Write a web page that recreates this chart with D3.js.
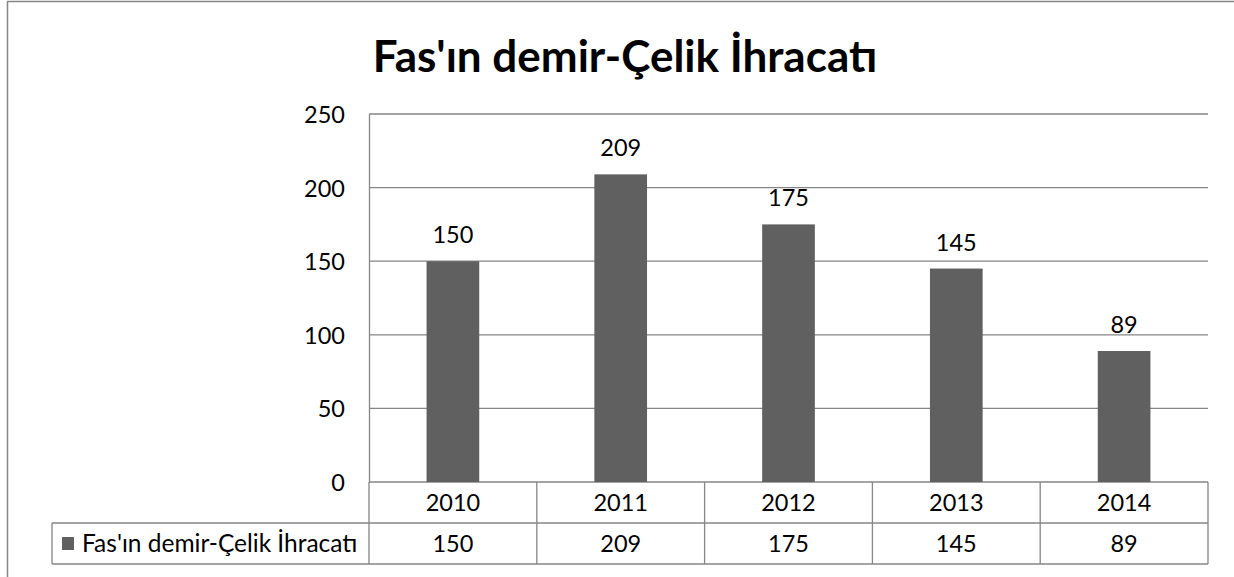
<!DOCTYPE html>
<html>
<head>
<meta charset="utf-8">
<script src="https://cdn.jsdelivr.net/npm/d3@7"></script>
<style>
    body { margin: 0; background: #fff; }
    text { font-family: Lato, 'Noto Sans', sans-serif; fill: #000; }
</style>
</head>
<body>
<svg id="grafico"></svg>
<script>
const titulo = "Fas'ın demir-Çelik İhracatı";
const serie = "Fas'ın demir-Çelik İhracatı";
const anos = ['2010', '2011', '2012', '2013', '2014'];
const valores = [150, 209, 175, 145, 89];
const ticksY = [0, 50, 100, 150, 200, 250];

const largura = 1234, altura = 577;
const cinza = '#868686';
const fonte = '23.5px';

let svg = d3
    .select('#grafico')
    .attr('width', largura)
    .attr('height', altura);

// moldura do grafico
svg.append('rect')
    .attr('x', 7.5)
    .attr('y', 1.5)
    .attr('width', largura + 10)
    .attr('height', altura + 10)
    .attr('fill', 'none')
    .attr('stroke', cinza)
    .attr('stroke-width', 1.5);

var area = { esquerda: 369, direita: 1208, superior: 114, inferior: 482 };
var linhaTabela = 41; // altura de cada linha da tabela de dados
var legendaX = 52;

let fnX = d3
    .scaleBand()
    .domain(anos)
    .range([area.esquerda, area.direita])
    .paddingInner(0.686)
    .paddingOuter(0.343);

let fnY = d3
    .scaleLinear()
    .domain([0, d3.max(ticksY)])
    .range([area.inferior, area.superior]);

let passo = fnX.step();
let inicioBanda = (ano) => fnX(ano) - fnX.step() * fnX.paddingInner() / 2;

// grade horizontal
svg.append('g')
    .selectAll('line')
    .data(ticksY)
    .join('line')
    .attr('x1', area.esquerda)
    .attr('x2', area.direita)
    .attr('y1', d => fnY(d))
    .attr('y2', d => fnY(d))
    .attr('stroke', cinza)
    .attr('stroke-width', 1.3);

// eixo Y
let eixoY = d3.axisLeft(fnY).tickValues(ticksY).tickSize(0).tickPadding(24);
let gY = svg.append('g')
    .attr('transform', 'translate(' + area.esquerda + ',0)')
    .call(eixoY);
gY.select('.domain').attr('stroke', cinza).attr('stroke-width', 1.3);
gY.selectAll('text')
    .style('font-family', "Lato, 'Noto Sans', sans-serif")
    .style('font-size', fonte)
    .attr('dy', '0.36em')
    .attr('fill', '#000');

// barras
svg.append('g')
    .selectAll('rect')
    .data(valores)
    .join('rect')
    .attr('x', (d, i) => fnX(anos[i]))
    .attr('y', d => fnY(d))
    .attr('width', fnX.bandwidth())
    .attr('height', d => area.inferior - fnY(d))
    .attr('fill', '#606060');

// rotulos
svg.append('g')
    .selectAll('text')
    .data(valores)
    .join('text')
    .attr('x', (d, i) => fnX(anos[i]) + fnX.bandwidth() / 2)
    .attr('y', d => fnY(d) - 18)
    .style('text-anchor', 'middle')
    .style('font-size', fonte)
    .text(d => d);

// tabela de dados
let tabela = svg.append('g');
let linhaTopo = area.inferior, linhaMeio = area.inferior + linhaTabela, linhaBase = area.inferior + 2 * linhaTabela;

let linhas = [
    [area.esquerda, linhaMeio, area.esquerda, linhaTopo],
    [area.esquerda, linhaMeio, legendaX, linhaMeio],
    [area.esquerda, linhaMeio, area.direita, linhaMeio],
    [legendaX, linhaBase, area.direita, linhaBase],
    [legendaX, linhaMeio, legendaX, linhaBase],
    [area.esquerda, linhaMeio, area.esquerda, linhaBase]
];
anos.forEach(a => {
    let x = inicioBanda(a) + passo;
    linhas.push([x, linhaTopo, x, linhaBase]);
});
tabela.selectAll('line')
    .data(linhas)
    .join('line')
    .attr('x1', d => d[0]).attr('y1', d => d[1])
    .attr('x2', d => d[2]).attr('y2', d => d[3])
    .attr('stroke', cinza)
    .attr('stroke-width', 1.3);

tabela.selectAll('.ano')
    .data(anos)
    .join('text')
    .classed('ano', true)
    .attr('x', d => inicioBanda(d) + passo / 2)
    .attr('y', linhaTopo + 29)
    .style('text-anchor', 'middle')
    .style('font-size', fonte)
    .text(d => d);

tabela.selectAll('.valor')
    .data(valores)
    .join('text')
    .classed('valor', true)
    .attr('x', (d, i) => inicioBanda(anos[i]) + passo / 2)
    .attr('y', linhaMeio + 29)
    .style('text-anchor', 'middle')
    .style('font-size', fonte)
    .text(d => d);

// chave da legenda
tabela.append('rect')
    .attr('x', 62)
    .attr('y', linhaMeio + 14)
    .attr('width', 12)
    .attr('height', 13)
    .attr('fill', '#606060');

tabela.append('text')
    .attr('x', 82)
    .attr('y', linhaMeio + 29)
    .style('font-size', '24.5px')
    .text(serie);

// titulo
svg.append('text')
    .attr('x', 625)
    .attr('y', 72)
    .style('text-anchor', 'middle')
    .style('font-size', '44px')
    .style('font-weight', 'bold')
    .text(titulo);
</script>
</body>
</html>
